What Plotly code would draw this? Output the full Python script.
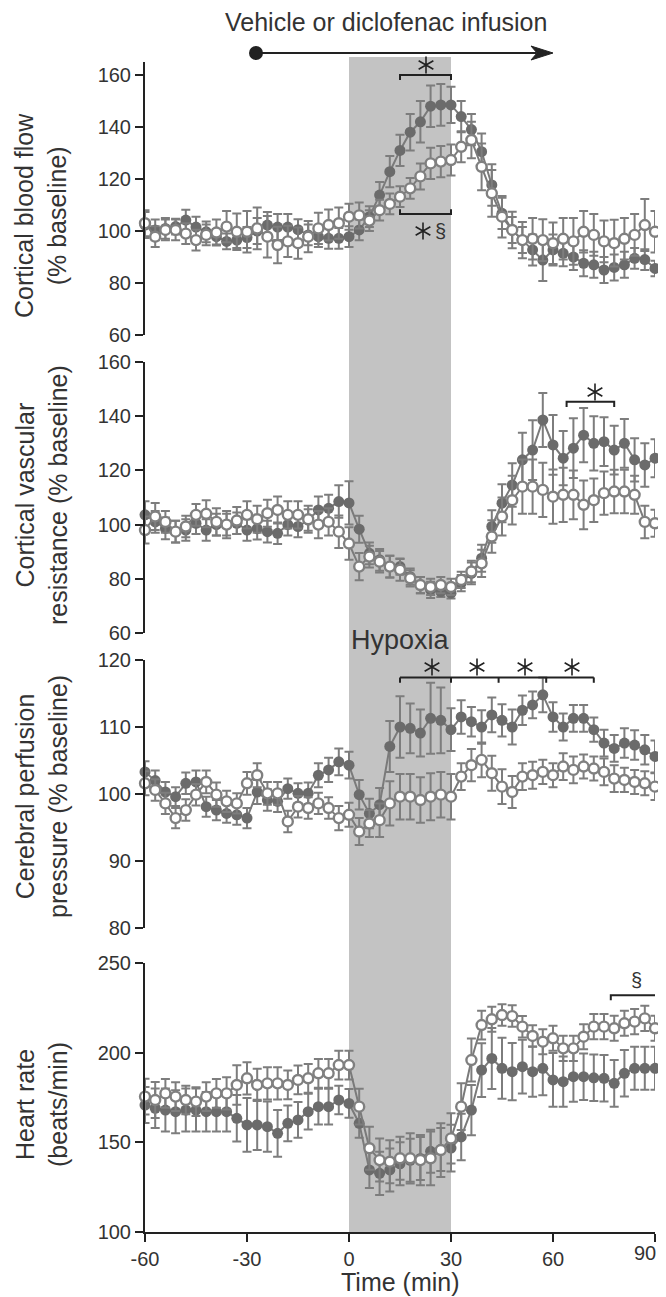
import math
import plotly.graph_objects as go

# ---------------- data ----------------
time_min = [-60, -57, -54, -51, -48, -45, -42, -39, -36, -33, -30, -27, -24, -21, -18, -15, -12, -9, -6, -3,
            0, 3, 6, 9, 12, 15, 18, 21, 24, 27, 30, 33, 36, 39, 42, 45, 48, 51, 54, 57,
            60, 63, 66, 69, 72, 75, 78, 81, 84, 87, 90]

# Cortical blood flow (% baseline)
cbf_filled = [102.3, 100.4, 101, 101.7, 104.2, 101.5, 99.7, 97.8, 96, 96.5, 97.5, 100, 102.3, 101.5, 101.5, 100.5, 98.5, 97.8, 97.2, 97.2,
              97.8, 100.4, 105.5, 113.8, 122.8, 131, 138, 142, 148, 148.5, 148.5, 144, 139, 130.5, 117.7, 106.8, 100.4, 96.5, 92.7, 88.8,
              92.7, 91.4, 90, 87.6, 87, 85, 86, 87, 89.5, 89, 85.6]
cbf_filled_err = [5, 4, 4, 3, 4, 4, 4, 3, 3, 3, 4, 5, 5, 5, 5, 4, 4, 4, 4, 4,
                  4, 4, 4, 5, 6, 6, 7, 8, 8, 8, 7, 6, 6, 7, 8, 6, 5, 5, 6, 8,
                  6, 5, 5, 5, 5, 5, 5, 5, 4, 4, 3]
cbf_open = [103, 97.8, 100.4, 100.4, 99, 96.5, 98.5, 99.4, 101.7, 99.7, 99.7, 101, 97.8, 94.6, 96, 95.3, 97.8, 101, 102.3, 103,
            105.5, 106, 104, 108, 110.4, 113.2, 116.4, 121, 126, 126.7, 127.3, 132.4, 135, 124.7, 114.5, 105.5, 100.4, 96.5, 97, 96.5,
            95.3, 97, 96, 99.7, 98.5, 96, 95.3, 97, 98.5, 102.3, 99.7]
cbf_open_err = [5, 4, 4, 4, 4, 4, 4, 5, 6, 7, 8, 8, 8, 7, 6, 6, 6, 6, 6, 6,
                5, 5, 4, 4, 4, 4, 4, 5, 6, 6, 6, 6, 7, 9, 9, 8, 7, 7, 8, 8,
                8, 8, 9, 8, 8, 8, 9, 8, 8, 10, 8]

# Cortical vascular resistance (% baseline)
cvr_filled = [103.6, 101, 98.6, 97.4, 98, 100.5, 98, 100, 100, 100.5, 98, 98.5, 97.4, 96.8, 100, 99.3, 101.7, 105.4, 106, 108.5,
              108, 98.3, 89.4, 87, 84.5, 84.5, 80.8, 77.7, 75.9, 75.3, 74.7, 78.4, 82, 87.6, 99.3, 107.9, 114.6, 123.9, 127.5, 138.6,
              129.4, 124.5, 128.2, 133, 130, 130.6, 127.5, 130, 123.9, 122, 124.5]
cvr_filled_err = [5, 4, 4, 4, 4, 4, 4, 4, 4, 4, 4, 4, 4, 4, 4, 4, 4, 5, 5, 6,
                  8, 5, 4, 4, 4, 3, 3, 3, 3, 2, 2, 3, 4, 5, 6, 7, 8, 10, 11, 10,
                  11, 10, 11, 10, 10, 9, 9, 9, 8, 8, 7]
cvr_open = [98, 103, 101, 97.4, 99.3, 103.6, 104, 101, 100, 101.5, 103.6, 102, 104.2, 105.4, 103.6, 103.6, 102, 100, 101, 97.4,
            93, 84.5, 88.2, 86.3, 84.5, 83.3, 80.2, 77.7, 77, 77.7, 77, 79.6, 82.7, 85.7, 95.6, 103, 109, 114, 114, 112.8,
            110.3, 111, 111, 107.3, 109, 111.6, 112.2, 112.2, 111, 101, 100.5]
cvr_open_err = [5, 5, 4, 4, 4, 4, 5, 5, 5, 5, 5, 5, 5, 5, 5, 5, 5, 5, 5, 6,
                6, 5, 4, 4, 4, 4, 3, 3, 3, 3, 3, 3, 4, 5, 6, 7, 9, 10, 10, 10,
                10, 10, 9, 9, 8, 8, 8, 8, 7, 6, 5]

# Cerebral perfusion pressure (% baseline)
cpp_filled = [103.3, 102, 100.3, 99.6, 101.6, 101.8, 98.1, 97.6, 97.1, 96.9, 96.4, 100.3, 99.1, 98.9, 100.8, 100.1, 100.1, 102.8, 103.6, 104.8,
              104.3, 99.9, 97.1, 98.4, 107.1, 110, 109.8, 109.1, 111.3, 111, 109.6, 111.5, 110.8, 110, 111.8, 111, 110, 112.5, 113.3, 114.8,
              111.5, 110, 111.3, 111.3, 109.6, 107.6, 106.8, 107.6, 107.3, 106.6, 105.6]
cpp_filled_err = [1.6, 1.5, 1.5, 1.4, 1.6, 1.7, 1.5, 1.5, 1.4, 1.5, 1.5, 1.8, 1.6, 1.6, 1.5, 1.5, 1.6, 1.8, 1.8, 2.0,
                  2.0, 2.2, 2.2, 2.5, 3.8, 4.6, 3.7, 3.5, 5.3, 4.9, 3.2, 2.5, 2.2, 2.5, 2.6, 2.4, 2.6, 2.2, 2.0, 2.6,
                  2.2, 2.0, 2.0, 2.0, 1.8, 2.0, 2.0, 2.2, 2.2, 2.2, 2.4]
cpp_open = [101.6, 100.6, 98.6, 96.4, 97.6, 99.9, 101.8, 99.9, 98.9, 98.6, 101.6, 102.8, 100.1, 100.1, 95.9, 98.1, 97.9, 98.6, 97.9, 96.4,
            96.9, 94.4, 95.6, 96.1, 98.6, 99.6, 99.6, 99.1, 99.6, 99.9, 99.6, 102.6, 104.3, 105.1, 103.1, 101.1, 100.3, 102.6, 102.8, 103.3,
            102.8, 104.1, 103.6, 104.1, 103.8, 103.3, 102.3, 102.1, 101.8, 101.6, 101.1]
cpp_open_err = [1.8, 1.6, 1.6, 1.5, 1.6, 1.6, 1.7, 1.8, 1.6, 1.5, 1.7, 1.8, 1.7, 1.7, 1.6, 1.6, 1.6, 1.6, 1.6, 1.8,
                1.8, 2.0, 2.0, 2.5, 3.3, 3.4, 3.4, 3.4, 3.5, 3.4, 3.4, 2.0, 2.4, 2.6, 2.6, 2.6, 2.4, 2.0, 2.0, 1.8,
                1.8, 2.0, 2.0, 1.8, 1.8, 2.0, 2.0, 1.8, 1.8, 1.8, 2.0]

# Heart rate (beats/min)
hr_filled = [170.8, 169, 168, 167.1, 168, 168, 167.1, 167.1, 167.1, 163.4, 159.7, 159.7, 158.7, 155, 160.6, 162.5, 167.1, 169.9, 169.9, 173.6,
             171.7, 160.6, 134.6, 132.7, 134.6, 138, 140, 141, 145, 146, 146.8, 153, 168, 190.3, 196.8, 191.3, 189.4, 192.2, 189.4, 191.3,
             184.8, 183.8, 186.6, 186.6, 186, 185.7, 182.9, 188.5, 191.3, 191.3, 191.3]
hr_filled_err = [10, 11, 12, 12, 12, 12, 11, 11, 11, 13, 15, 14, 14, 13, 10, 10, 10, 10, 10, 8,
                 8, 8, 10, 12, 12, 12, 12, 12, 12, 12, 13, 13, 14, 15, 17, 17, 16, 15, 14, 15,
                 15, 14, 14, 13, 13, 13, 13, 13, 12, 12, 12]
hr_open = [175.5, 173.6, 177.3, 175.5, 173.6, 172.7, 175.5, 177.3, 177.3, 182, 185.7, 182, 182.9, 182.9, 182, 184.8, 185.7, 188.5, 188.5, 193.1,
           193.1, 169.9, 146.7, 140.1, 139.2, 141.1, 141.1, 140.1, 141.1, 145.7, 152.2, 169.9, 195.9, 215.4, 218.6, 221, 220.4, 214.5, 209.3, 206.1,
           208, 202.4, 202.4, 208.9, 214.5, 214.5, 213.6, 216.4, 217.3, 219.1, 213.6]
hr_open_err = [10, 10, 8, 8, 8, 8, 8, 8, 9, 11, 9, 9, 9, 9, 8, 8, 8, 8, 8, 8,
               8, 10, 12, 12, 12, 12, 14, 14, 15, 15, 14, 13, 12, 8, 7, 6, 6, 6, 6, 7,
               7, 7, 7, 7, 7, 7, 7, 7, 7, 7, 7]

y_titles = ["Cortical blood flow<br>(% baseline)",
            "Cortical vascular<br>resistance (% baseline)",
            "Cerebral perfusion<br>pressure (% baseline)",
            "Heart rate<br>(beats/min)"]
y_ranges = [[60, 165], [60, 160], [80, 120], [100, 250]]
y_ticks = [[60, 80, 100, 120, 140, 160], [60, 80, 100, 120, 140, 160],
           [80, 90, 100, 110, 120], [100, 150, 200, 250]]
x_ticks = [-60, -30, 0, 30, 60, 90]
x_ticktext = ["-60", "-30", "0", "30", "60", "90"]

# ---------------- styling ----------------
FONT = "Liberation Sans, Arial, Helvetica, sans-serif"
TXT = "#333333"
AX = "#222222"
FILL = "#6b6b6b"
LINE = "#7a7a7a"
ERR = "#7d7d7d"
OPEN_EDGE = "#808080"

# The page body adds an 8 px offset; the figure is drawn 8 px smaller and
# all positions below are given in the reference's page pixels.
OFF = 8
W, H = 666 - OFF, 1297 - OFF
L, R, T, B = 145 - OFF, 11, 62 - OFF, 65
PH = 1232 - 62  # 1170 px of plotting height
PW = 655 - 145  # 510 px of plotting width
PXMIN = PW / 150.0  # px per minute


def py(ypix):
    return (1232 - ypix) / PH


def px(xpix):
    return (xpix - 145) / PW


def tx(xpix):
    return (xpix - 145) / PXMIN - 60


domains = [[py(335), 1.0], [py(633), py(362)], [py(928), py(660)], [0.0, py(963)]]

fig = go.Figure()
series = [(cbf_filled, cbf_filled_err, cbf_open, cbf_open_err),
          (cvr_filled, cvr_filled_err, cvr_open, cvr_open_err),
          (cpp_filled, cpp_filled_err, cpp_open, cpp_open_err),
          (hr_filled, hr_filled_err, hr_open, hr_open_err)]

for i, (f, fe, o, oe) in enumerate(series, start=1):
    xa = "x" if i == 1 else f"x{i}"
    ya = "y" if i == 1 else f"y{i}"
    fig.add_trace(go.Scatter(
        x=time_min, y=f, mode="lines+markers", xaxis=xa, yaxis=ya,
        line=dict(color=LINE, width=2),
        marker=dict(size=11, color=FILL, line=dict(width=0)),
        error_y=dict(type="data", array=fe, color=ERR, thickness=2, width=4.5),
        cliponaxis=False, showlegend=False, hoverinfo="skip"))
    fig.add_trace(go.Scatter(
        x=time_min, y=o, mode="lines+markers", xaxis=xa, yaxis=ya,
        line=dict(color=LINE, width=2),
        marker=dict(size=10, color="white", line=dict(width=2.4, color=OPEN_EDGE)),
        error_y=dict(type="data", array=oe, color=ERR, thickness=2, width=4.5),
        cliponaxis=False, showlegend=False, hoverinfo="skip"))

layout = dict(
    width=W, height=H,
    margin=dict(l=L, r=R, t=T, b=B, pad=0),
    paper_bgcolor="white", plot_bgcolor="rgba(0,0,0,0)",
    font=dict(family=FONT, color=TXT, size=19),
    showlegend=False,
)

# last x tick label is written as an annotation so it can touch the right edge
shown_ticktext = x_ticktext[:-1] + [""]

for i in range(1, 5):
    xk = "xaxis" if i == 1 else f"xaxis{i}"
    yk = "yaxis" if i == 1 else f"yaxis{i}"
    ya = "y" if i == 1 else f"y{i}"
    xa = "x" if i == 1 else f"x{i}"
    layout[xk] = dict(domain=[0, 1], range=[-60, 90], anchor=ya, visible=(i == 4),
                      showline=True, linecolor=AX, linewidth=2, ticks="outside",
                      ticklen=8, tickwidth=2, tickcolor=AX,
                      tickvals=x_ticks, ticktext=shown_ticktext,
                      showgrid=False, zeroline=False, automargin=False,
                      tickfont=dict(size=20, color=TXT, family=FONT))
    if i != 1:
        layout[xk]["matches"] = "x"
    layout[yk] = dict(domain=domains[i - 1], range=y_ranges[i - 1], anchor=xa,
                      tickvals=y_ticks[i - 1], showline=True, linecolor=AX, linewidth=2,
                      ticks="outside", ticklen=8, tickwidth=2, tickcolor=AX,
                      showgrid=False, zeroline=False, automargin=False,
                      tickfont=dict(size=20, color=TXT, family=FONT))

fig.update_layout(**layout)

shapes = []
# hypoxia shading through all panels
shapes.append(dict(type="rect", xref="x4", yref="paper", x0=0, x1=30, y0=0, y1=py(57),
                   fillcolor="#c3c3c3", line=dict(width=0), layer="below"))

# infusion arrow
ya_arrow = py(53)
x_dot = tx(256)
x_tip = tx(553)
shapes.append(dict(type="line", xref="x4", yref="paper", x0=x_dot, x1=x_tip - 5, y0=ya_arrow, y1=ya_arrow,
                   line=dict(color=AX, width=2)))
back = x_tip - 22 / PXMIN
notch = x_tip - 16 / PXMIN
hh = 7 / PH
shapes.append(dict(type="path", xref="x4", yref="paper",
                   path=f"M {x_tip},{ya_arrow} L {back},{ya_arrow + hh} L {notch},{ya_arrow} L {back},{ya_arrow - hh} Z",
                   fillcolor=AX, line=dict(color=AX, width=1)))
rx = 7 / PXMIN
ry = 7 / PH
shapes.append(dict(type="circle", xref="x4", yref="paper", x0=x_dot - rx, x1=x_dot + rx,
                   y0=ya_arrow - ry, y1=ya_arrow + ry, fillcolor=AX, line=dict(color=AX, width=0)))


def bracket(x0, x1, y, tick, yref, xref):
    return dict(type="path", xref=xref, yref=yref,
                path=f"M {x0},{y + tick} L {x0},{y} L {x1},{y} L {x1},{y + tick}",
                line=dict(color=AX, width=2))


# panel 1 brackets
shapes.append(bracket(15, 30, 160, -1.9, "y", "x"))
shapes.append(bracket(15, 30, 106.5, 1.9, "y", "x"))
# panel 2
shapes.append(bracket(64, 78, 145.3, -1.9, "y2", "x2"))
# panel 3: continuous bracket with ticks
shapes.append(dict(type="line", xref="x3", yref="y3", x0=15, x1=72, y0=117.4, y1=117.4,
                   line=dict(color=AX, width=2)))
for xt in [15, 30, 44, 58, 72]:
    shapes.append(dict(type="line", xref="x3", yref="y3", x0=xt, x1=xt, y0=117.4, y1=116.6,
                       line=dict(color=AX, width=2)))
# panel 4
shapes.append(bracket(77, 90.5, 232, -2.8, "y4", "x4"))


def asterisk(xpix, ypix, r=8.5):
    """six-armed thin asterisk centred at reference pixel (xpix, ypix)"""
    segs = []
    for ang in (90, 30, 150):
        a = math.radians(ang)
        dx, dy = r * math.cos(a), r * math.sin(a)
        segs.append(f"M {tx(xpix - dx)},{py(ypix + dy)} L {tx(xpix + dx)},{py(ypix - dy)}")
    return dict(type="path", xref="x4", yref="paper", path=" ".join(segs),
                line=dict(color=AX, width=1.6))


for (sx, sy) in [(426, 65), (423, 231), (595, 392), (432, 667), (477, 667), (525, 667), (572, 667)]:
    shapes.append(asterisk(sx, sy))

annotations = []
annotations.append(dict(x=tx(440), y=py(231), xref="x4", yref="paper", text="§", showarrow=False,
                        font=dict(size=20, color=TXT, family=FONT), xanchor="center", yanchor="middle"))
annotations.append(dict(x=tx(636), y=py(980), xref="x4", yref="paper", text="§", showarrow=False,
                        font=dict(size=20, color=TXT, family=FONT), xanchor="center", yanchor="middle"))

# last x tick label (paper-referenced, right-aligned so it stays inside the visible page)
annotations.append(dict(x=px(657), y=py(1253), xref="paper", yref="paper", text=x_ticktext[-1],
                        showarrow=False, font=dict(size=20, color=TXT, family=FONT),
                        xanchor="right", yanchor="middle", borderpad=0))

# texts
annotations.append(dict(x=tx(386), y=py(22), xref="x4", yref="paper", text="Vehicle or diclofenac infusion",
                        showarrow=False, font=dict(size=25, color=TXT, family=FONT),
                        xanchor="center", yanchor="middle"))
annotations.append(dict(x=15, y=py(640), xref="x4", yref="paper", text="Hypoxia",
                        showarrow=False, font=dict(size=27, color=TXT, family=FONT),
                        xanchor="center", yanchor="middle"))
annotations.append(dict(x=15, y=py(1282), xref="x4", yref="paper", text="Time (min)",
                        showarrow=False, font=dict(size=25, color=TXT, family=FONT),
                        xanchor="center", yanchor="middle"))

title_centers = [216, 495, 797, 1105]
for txt, yc in zip(y_titles, title_centers):
    annotations.append(dict(x=px(41), y=py(yc), xref="paper", yref="paper", text=txt,
                            textangle=-90, showarrow=False,
                            font=dict(size=25, color=TXT, family=FONT),
                            xanchor="center", yanchor="middle"))

fig.update_layout(shapes=shapes, annotations=annotations)
fig.write_html("out.html")
